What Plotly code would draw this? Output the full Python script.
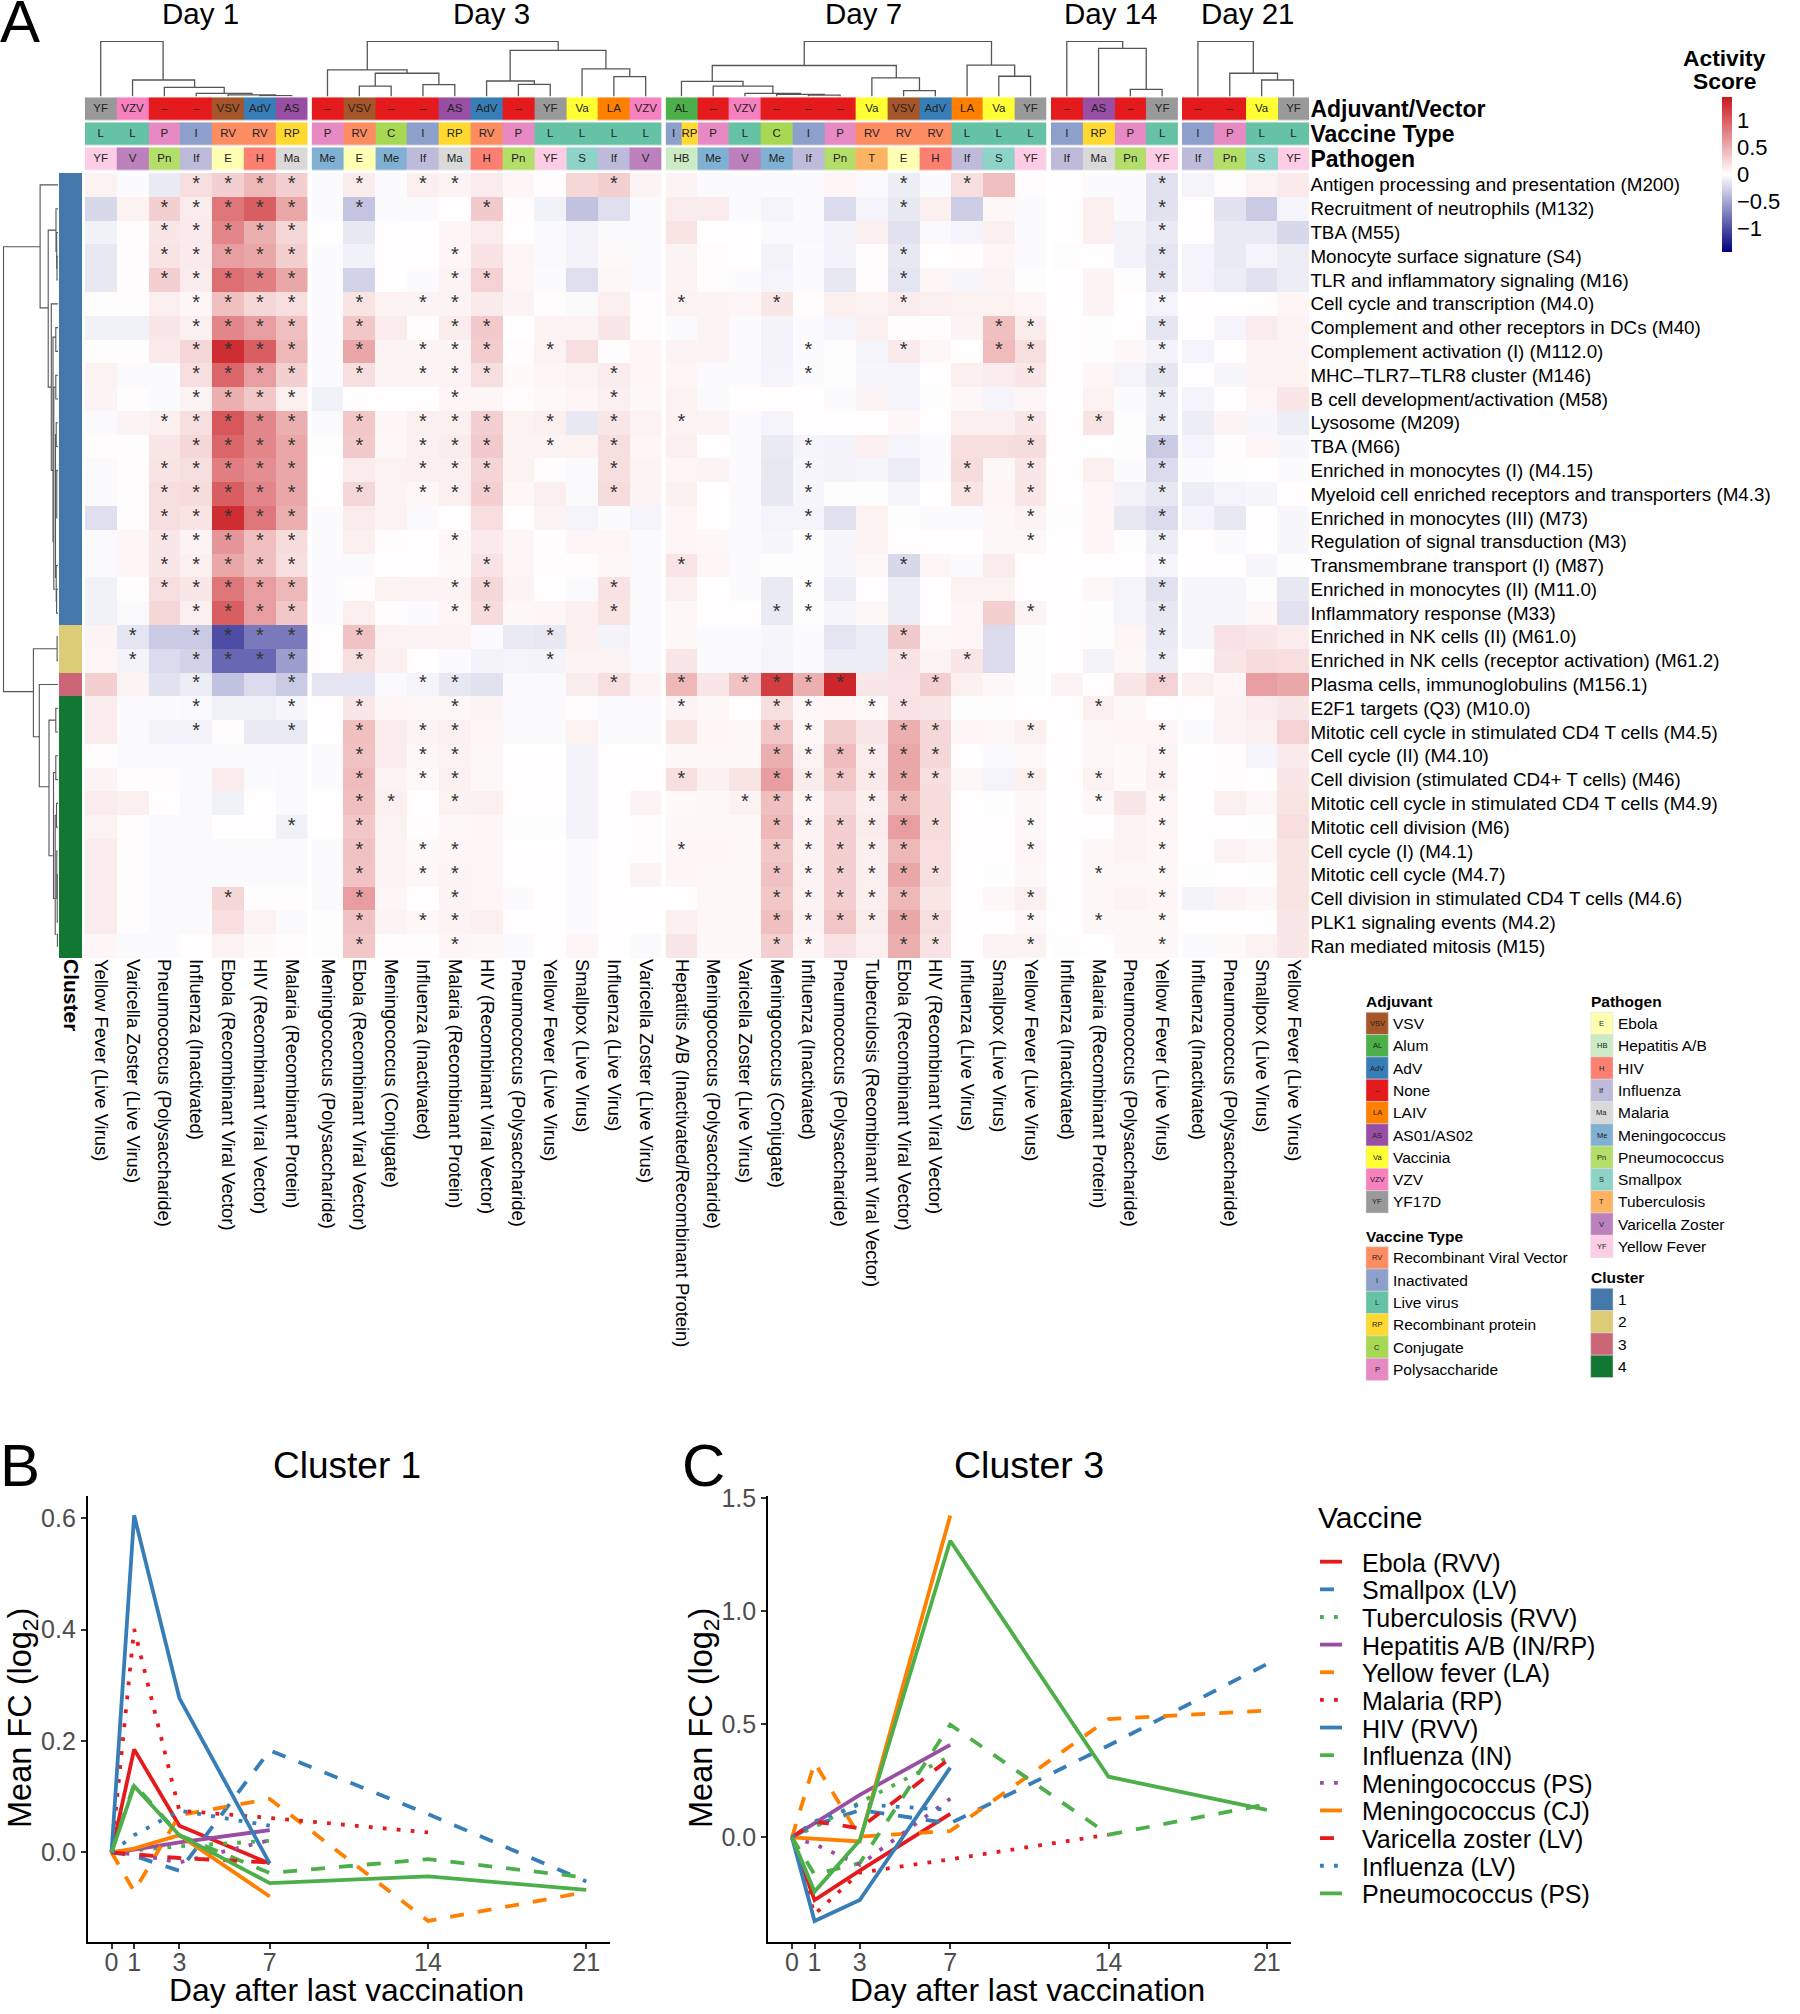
import plotly.graph_objects as go

W, H = 1800, 2014
FONT = "Liberation Sans"

# ---- heatmap data -------------------------------------------------------
row_labels = [
    "Antigen processing and presentation (M200)", "Recruitment of neutrophils (M132)", "TBA (M55)",
    "Monocyte surface signature (S4)", "TLR and inflammatory signaling (M16)", "Cell cycle and transcription (M4.0)",
    "Complement and other receptors in DCs (M40)", "Complement activation (I) (M112.0)",
    "MHC–TLR7–TLR8 cluster (M146)", "B cell development/activation (M58)", "Lysosome (M209)", "TBA (M66)",
    "Enriched in monocytes (I) (M4.15)", "Myeloid cell enriched receptors and transporters (M4.3)",
    "Enriched in monocytes (III) (M73)", "Regulation of signal transduction (M3)", "Transmembrane transport (I) (M87)",
    "Enriched in monocytes (II) (M11.0)", "Inflammatory response (M33)", "Enriched in NK cells (II) (M61.0)",
    "Enriched in NK cells (receptor activation) (M61.2)", "Plasma cells, immunoglobulins (M156.1)",
    "E2F1 targets (Q3) (M10.0)", "Mitotic cell cycle in stimulated CD4 T cells (M4.5)", "Cell cycle (II) (M4.10)",
    "Cell division (stimulated CD4+ T cells) (M46)", "Mitotic cell cycle in stimulated CD4 T cells (M4.9)",
    "Mitotic cell division (M6)", "Cell cycle (I) (M4.1)", "Mitotic cell cycle (M4.7)",
    "Cell division in stimulated CD4 T cells (M4.6)", "PLK1 signaling events (M4.2)", "Ran mediated mitosis (M15)",
]
row_cluster = [1] * 19 + [2] * 2 + [3] + [4] * 11

day_titles = ["Day 1", "Day 3", "Day 7", "Day 14", "Day 21"]
day_title_px = [200.5, 491.5, 863, 1110, 1247]

day1_cols = ["Yellow Fever (Live Virus)", "Varicella Zoster (Live Virus)", "Pneumococcus (Polysaccharide)",
             "Influenza (Inactivated)", "Ebola (Recombinant Viral Vector)", "HIV (Recombinant Viral Vector)",
             "Malaria (Recombinant Protein)"]
day3_cols = ["Meningococcus (Polysaccharide)", "Ebola (Recombinant Viral Vector)", "Meningococcus (Conjugate)",
             "Influenza (Inactivated)", "Malaria (Recombinant Protein)", "HIV (Recombinant Viral Vector)",
             "Pneumococcus (Polysaccharide)", "Yellow Fever (Live Virus)", "Smallpox (Live Virus)",
             "Influenza (Live Virus)", "Varicella Zoster (Live Virus)"]
day7_cols = ["Hepatitis A/B (Inactivated/Recombinant Protein)", "Meningococcus (Polysaccharide)",
             "Varicella Zoster (Live Virus)", "Meningococcus (Conjugate)", "Influenza (Inactivated)",
             "Pneumococcus (Polysaccharide)", "Tuberculosis (Recombinant Viral Vector)",
             "Ebola (Recombinant Viral Vector)", "HIV (Recombinant Viral Vector)", "Influenza (Live Virus)",
             "Smallpox (Live Virus)", "Yellow Fever (Live Virus)"]
day14_cols = ["Influenza (Inactivated)", "Malaria (Recombinant Protein)", "Pneumococcus (Polysaccharide)",
              "Yellow Fever (Live Virus)"]
day21_cols = ["Influenza (Inactivated)", "Pneumococcus (Polysaccharide)", "Smallpox (Live Virus)",
              "Yellow Fever (Live Virus)"]

day1_values = [
    [.08, -.02, -.12, .2, .3, .45, .3], [-.22, .08, .3, .12, .85, 1.0, .55], [-.08, .02, .15, .13, .75, .5, .25],
    [-.13, .02, .17, .13, .6, .55, .3], [-.13, .02, .3, .12, .9, .8, .55], [.02, .02, .1, .06, .4, .25, .2],
    [-.08, -.08, .15, .1, .75, .6, .4], [.02, .02, .13, .25, 1.3, 1.0, .45], [.08, -.03, -.02, .2, .95, .6, .3],
    [.07, .02, -.02, .07, .5, .35, .1], [-.03, .07, .1, .2, 1.05, .75, .5], [.02, .02, .15, .25, .95, .75, .55],
    [-.03, .02, .17, .2, .8, .7, .55], [-.03, .02, .2, .22, 1.0, .75, .55], [-.18, .02, .2, .17, 1.3, .85, .5],
    [-.03, .06, .15, .07, .65, .4, .22], [-.03, .06, .15, .1, .55, .4, .2], [-.08, .02, .2, .15, .85, .6, .45],
    [-.08, -.03, .25, .1, 1.0, .6, .35], [.07, -.15, -.3, -.3, -1.0, -.75, -.75],
    [.06, -.07, -.2, -.25, -.85, -.85, -.55], [.3, .07, -.17, -.1, -.35, -.2, -.3],
    [.12, -.03, -.02, -.03, -.08, -.08, -.05], [.12, -.03, -.07, -.07, .02, -.12, -.12],
    [.02, -.03, -.03, -.03, -.03, -.03, -.03], [.07, .02, .02, -.02, .12, -.02, -.03],
    [.12, .1, .01, -.03, -.08, .01, -.03], [.08, .02, -.03, -.03, .01, .01, -.08],
    [.12, .02, -.03, -.03, -.03, -.03, -.03], [.12, .02, -.03, -.03, -.03, -.03, -.03],
    [.12, .02, -.03, -.03, .25, .02, .02], [.12, .02, -.03, -.03, .2, .08, -.03],
    [.06, -.03, -.02, .01, .08, .03, .02],
]
day3_values = [
    [-.02, .12, -.02, .1, .07, .12, .06, .02, .25, .3, .07], [-.02, -.33, -.02, -.03, .01, .33, .02, -.08, -.35, -.18, -.03],
    [.01, -.13, .01, .01, .06, .12, .01, -.03, -.07, -.03, -.03], [-.02, -.08, .01, .01, .06, .18, .06, -.03, -.07, .04, -.03],
    [-.02, -.25, .01, -.02, .07, .28, .06, -.02, -.18, .05, -.03], [-.02, .17, .08, .07, .07, .13, .07, .02, -.03, .1, .02],
    [-.02, .35, .12, .02, .12, .33, .01, .08, .07, .15, .02], [-.02, .55, .07, .07, .07, .32, .02, .08, .2, .02, .06],
    [-.02, .2, .07, .07, .07, .2, .03, .06, .08, .12, .06], [-.08, .01, .01, .01, .06, .06, .02, .04, .06, .1, .05],
    [-.03, .35, .06, .1, .1, .3, .08, .1, -.13, .15, .08], [-.01, .33, .05, .1, .12, .33, .07, .07, .08, .2, .06],
    [.01, .12, .08, .1, .1, .27, .08, .02, -.03, .2, .07], [.01, .25, .07, .05, .1, .3, .05, .1, -.03, .22, .07],
    [-.02, .12, .08, -.03, .01, .2, .01, .07, -.06, -.02, -.06], [-.02, .1, .02, .01, .05, .13, .06, .02, .06, .06, -.03],
    [-.02, -.03, .01, .01, .04, .18, .06, .02, .02, .05, -.03], [-.02, .02, .08, .07, .07, .25, .07, .01, -.03, .18, -.03],
    [-.02, .1, .02, -.02, .06, .22, .05, .06, .1, .17, -.03], [.01, .38, .08, .07, .07, -.02, -.12, -.13, .1, -.07, -.02],
    [.01, .2, .1, .01, -.02, -.07, -.06, -.07, .07, .07, -.03], [-.15, -.15, -.03, -.06, -.13, -.17, -.03, -.03, .12, .2, .07],
    [.01, .15, .06, .05, .05, .07, -.03, -.03, .02, -.03, -.02], [.01, .4, .12, .07, .1, .06, -.03, -.03, .08, -.02, -.03],
    [-.02, .38, .12, .05, .08, .05, .01, .01, -.07, .01, .01], [-.02, .42, .07, .04, .1, .05, .01, .01, -.07, .01, .01],
    [.01, .4, .1, .01, .08, .1, .01, .01, -.07, .01, .07], [.01, .35, .08, .02, .05, .06, -.01, -.01, -.07, .01, .02],
    [-.02, .38, .07, .04, .06, .06, .01, .01, -.02, .01, .02], [-.02, .37, .07, .05, .07, .06, .01, .01, -.02, .01, .07],
    [-.03, .6, .06, .01, .07, .06, -.02, .01, -.02, .01, .01], [-.01, .38, .07, .05, .07, .1, .01, .01, -.02, .01, .01],
    [-.01, .35, .02, .02, .06, .05, -.02, .01, .06, .01, -.03],
]
day7_values = [
    [.07, -.02, -.02, -.02, -.02, .06, -.03, -.1, -.02, .2, .4, .02], [.12, .12, -.02, -.06, -.02, -.2, -.06, -.13, .1, -.28, .05, -.02],
    [.17, .01, .01, -.03, -.03, -.07, .1, -.17, -.03, -.06, .1, -.02], [.07, .02, .01, -.07, -.02, -.07, .02, -.13, .01, .02, .06, -.02],
    [.07, .02, -.02, -.06, -.02, -.13, .02, -.15, .06, -.05, .07, -.01], [.08, .07, .06, .15, .02, .1, .08, .12, .1, .08, .08, .06],
    [-.02, .07, -.02, -.07, -.02, -.06, .1, .02, .02, .07, .4, .12], [.07, .07, -.02, -.07, -.02, -.01, -.06, .13, .05, .01, .42, .2],
    [.06, -.02, -.02, -.06, -.02, -.01, -.05, -.06, .01, .1, .12, .15], [.08, -.03, .01, .01, .01, -.02, .07, -.06, -.01, .05, -.06, .06],
    [.08, .07, -.02, -.06, .01, .01, .01, .05, .01, .1, .1, .15], [.1, .01, -.02, -.12, -.06, -.07, .1, -.06, -.02, .2, .2, .22],
    [.06, .07, -.02, -.13, -.05, -.07, -.05, -.1, -.02, .22, .05, .15], [.09, .01, -.03, -.13, -.05, -.01, -.01, -.05, .01, .17, .06, .15],
    [.06, .01, -.02, -.06, -.06, -.17, .08, -.01, -.02, -.02, .05, .07], [.06, .05, -.02, -.05, -.01, -.05, .08, .01, .01, .01, .05, .05],
    [.16, .06, -.02, -.01, -.01, -.05, .05, -.22, .06, -.02, .12, .01], [.1, .01, -.02, -.12, -.01, -.1, .01, -.1, .01, .08, .08, .01],
    [.05, .01, .01, -.12, -.01, -.05, .05, -.1, .01, .06, .3, .07], [.05, -.02, -.02, -.05, -.02, -.15, -.1, .33, .05, .06, -.2, -.01],
    [.15, -.02, -.02, -.06, -.02, -.1, -.1, .18, .07, .15, -.2, -.01], [.45, .15, .38, 1.2, .5, 1.35, .15, .16, .3, .1, .05, -.01],
    [.07, .05, .01, .2, .05, .06, .04, .18, .15, -.01, -.01, .01], [.17, .06, .05, .35, .05, .3, .15, .5, .25, .06, .05, .1],
    [.05, .05, .05, .5, .08, .42, .12, .55, .25, .01, -.02, .04], [.2, .1, .17, .6, .12, .35, .13, .55, .2, .05, -.06, .1],
    [.03, .05, .08, .4, .06, .25, .1, .45, .22, .01, -.01, .05], [.05, .05, .05, .45, .07, .3, .12, .6, .22, .01, .01, .05],
    [.06, .06, .05, .35, .07, .3, .1, .45, .2, .01, .01, .06], [.06, .05, .05, .38, .07, .3, .1, .55, .2, .01, -.01, .05],
    [.01, .05, .05, .35, .07, .3, .1, .45, .15, .01, .05, .1], [.1, .05, .05, .4, .07, .35, .12, .55, .2, .01, .01, .05],
    [.15, .05, .05, .3, .06, .18, .1, .5, .18, .01, .07, .08],
]
day14_values = [
    [.01, -.02, -.02, -.17], [.01, .1, -.02, -.17], [.01, .1, -.07, -.12], [-.01, .01, -.07, -.15], [.01, .07, -.01, -.14],
    [.01, .07, .01, -.06], [.01, -.01, .01, -.14], [.01, -.01, .05, -.07], [.01, .06, -.06, -.14], [.01, .08, -.02, -.1],
    [.01, .17, -.01, -.1], [.01, .01, -.01, -.3], [.01, .1, -.02, -.2], [.01, .06, -.07, -.13], [-.01, .06, -.13, -.2],
    [.01, .06, -.01, -.1], [.01, .01, .01, -.06], [.01, .05, -.06, -.17], [.01, -.01, -.06, -.13], [.01, -.01, .06, -.12],
    [.01, -.07, .05, -.1], [.07, .01, .15, .28], [.01, .1, .05, .01], [.01, .05, .06, .06], [.01, .05, .03, .07],
    [.01, .08, .03, .08], [.01, .05, .15, .06], [.01, .01, .07, .06], [.01, .05, .07, .05], [.01, .05, .05, .05],
    [.01, .05, .07, .06], [.01, .05, .05, .05], [-.01, .01, .05, .05],
]
day21_values = [
    [-.06, .02, .08, .13], [.01, -.17, -.3, -.06], [.01, -.12, -.12, -.22], [-.06, -.12, -.06, -.1], [-.06, -.1, -.17, -.1],
    [.01, .01, .01, .06], [.01, -.06, .12, .07], [-.06, .01, .07, .07], [.01, -.05, .07, .08], [-.06, .01, .06, .15],
    [-.1, .07, -.05, -.1], [-.06, .02, .06, -.05], [-.02, -.01, .01, -.02], [-.1, -.06, -.05, .01], [-.06, -.13, .01, -.05],
    [.01, -.02, .01, -.05], [.01, .01, -.05, -.01], [-.05, -.05, -.01, -.13], [-.05, -.05, .05, -.17], [-.05, .18, .15, .12],
    [.01, .15, .22, .2], [.1, .06, .6, .55], [.01, .07, .12, .15], [-.02, .07, .1, .28], [.01, .02, -.06, .13],
    [.01, .02, .01, .15], [.01, .1, .05, .17], [.01, .01, -.01, .2], [.01, .07, .05, .17], [-.01, .01, -.01, .17],
    [-.07, .07, .05, .17], [.01, .01, .01, .15], [-.02, .04, .08, .15],
]

# significant cells: row -> list of columns
day1_stars = {0: [3, 4, 5, 6], 1: [2, 3, 4, 5, 6], 2: [2, 3, 4, 5, 6], 3: [2, 3, 4, 5, 6], 4: [2, 3, 4, 5, 6],
              5: [3, 4, 5, 6], 6: [3, 4, 5, 6], 7: [3, 4, 5, 6], 8: [3, 4, 5, 6], 9: [3, 4, 5, 6],
              10: [2, 3, 4, 5, 6], 11: [3, 4, 5, 6], 12: [2, 3, 4, 5, 6], 13: [2, 3, 4, 5, 6], 14: [2, 3, 4, 5, 6],
              15: [2, 3, 4, 5, 6], 16: [2, 3, 4, 5, 6], 17: [2, 3, 4, 5, 6], 18: [3, 4, 5, 6],
              19: [1, 3, 4, 5, 6], 20: [1, 3, 4, 5, 6], 21: [3, 6], 22: [3, 6], 23: [3, 6], 27: [6], 30: [4]}
day3_stars = {0: [1, 3, 4, 9], 1: [1, 5], 3: [4], 4: [4, 5], 5: [1, 3, 4], 6: [1, 4, 5], 7: [1, 3, 4, 5, 7],
              8: [1, 3, 4, 5, 9], 9: [4, 9], 10: [1, 3, 4, 5, 7, 9], 11: [1, 3, 4, 5, 7, 9], 12: [3, 4, 5, 9],
              13: [1, 3, 4, 5, 9], 15: [4], 16: [5], 17: [4, 5, 9], 18: [4, 5, 9], 19: [1, 7], 20: [1, 7],
              21: [3, 4, 9], 22: [1, 4], 23: [1, 3, 4], 24: [1, 3, 4], 25: [1, 3, 4], 26: [1, 2, 4], 27: [1],
              28: [1, 3, 4], 29: [1, 3, 4], 30: [1, 4], 31: [1, 3, 4], 32: [1, 4]}
day7_stars = {0: [7, 9], 1: [7], 3: [7], 4: [7], 5: [0, 3, 7], 6: [10, 11], 7: [4, 7, 10, 11], 8: [4, 11], 10: [0, 11],
              11: [4, 11], 12: [4, 9, 11], 13: [4, 9, 11], 14: [4, 11], 15: [4, 11], 16: [0, 7], 17: [4],
              18: [3, 4, 11], 19: [7], 20: [7, 9], 21: [0, 2, 3, 4, 5, 8], 22: [0, 3, 4, 6, 7], 23: [3, 4, 7, 8, 11],
              24: [3, 4, 5, 6, 7, 8], 25: [0, 3, 4, 5, 6, 7, 8, 11], 26: [2, 3, 4, 6, 7], 27: [3, 4, 5, 6, 7, 8, 11],
              28: [0, 3, 4, 5, 6, 7, 11], 29: [3, 4, 5, 6, 7, 8], 30: [3, 4, 5, 6, 7, 11], 31: [3, 4, 5, 6, 7, 8, 11],
              32: [3, 4, 7, 8, 11]}
day14_stars = {r: [3] for r in range(33) if r != 22}
day14_stars[10] = [1, 3]
day14_stars[22] = [1]
for r in (25, 26, 29, 31):
    day14_stars[r] = [1, 3]
day21_stars = {}

# annotation strips
day1_adj = ["YF", "VZV", "–", "–", "VSV", "AdV", "AS"]
day3_adj = ["–", "VSV", "–", "–", "AS", "AdV", "–", "YF", "Va", "LA", "VZV"]
day7_adj = ["AL", "–", "VZV", "–", "–", "–", "Va", "VSV", "AdV", "LA", "Va", "YF"]
day14_adj = ["–", "AS", "–", "YF"]
day21_adj = ["–", "–", "Va", "YF"]
day1_type = ["L", "L", "P", "I", "RV", "RV", "RP"]
day3_type = ["P", "RV", "C", "I", "RP", "RV", "P", "L", "L", "L", "L"]
day7_type = [None, "P", "L", "C", "I", "P", "RV", "RV", "RV", "L", "L", "L"]
day14_type = ["I", "RP", "P", "L"]
day21_type = ["I", "P", "L", "L"]
day1_path = ["YF", "V", "Pn", "If", "E", "H", "Ma"]
day3_path = ["Me", "E", "Me", "If", "Ma", "H", "Pn", "YF", "S", "If", "V"]
day7_path = ["HB", "Me", "V", "Me", "If", "Pn", "T", "E", "H", "If", "S", "YF"]
day14_path = ["If", "Ma", "Pn", "YF"]
day21_path = ["If", "Pn", "S", "YF"]

adjuvant_names = ["VSV", "Alum", "AdV", "None", "LAIV", "AS01/AS02", "Vaccinia", "VZV", "YF17D"]
adjuvant_keys = ["VSV", "AL", "AdV", "–", "LA", "AS", "Va", "VZV", "YF"]
adjuvant_colors = ["#A65628", "#4DAF4A", "#377EB8", "#E41A1C", "#FF7F00", "#984EA3", "#FFFF33", "#F781BF", "#999999"]
type_names = ["Recombinant Viral Vector", "Inactivated", "Live virus", "Recombinant protein", "Conjugate", "Polysaccharide"]
type_keys = ["RV", "I", "L", "RP", "C", "P"]
type_colors = ["#FC8D62", "#8DA0CB", "#66C2A5", "#FFD92F", "#A6D854", "#E78AC3"]
path_names = ["Ebola", "Hepatitis A/B", "HIV", "Influenza", "Malaria", "Meningococcus", "Pneumococcus", "Smallpox",
              "Tuberculosis", "Varicella Zoster", "Yellow Fever"]
path_keys = ["E", "HB", "H", "If", "Ma", "Me", "Pn", "S", "T", "V", "YF"]
path_colors = ["#FFFFB3", "#CCEBC5", "#FB8072", "#BEBADA", "#D9D9D9", "#80B1D3", "#B3DE69", "#8DD3C7", "#FDB462",
               "#BC80BD", "#FCCDE5"]
cluster_names = ["1", "2", "3", "4"]
cluster_colors = ["#4477AA", "#DDCC77", "#CC6677", "#117733"]

# dendrograms: (left, right, height, left child height, right child height)
day1_tree = [(0, 1.96, 54.7, 0, 16.3), (1, 2.95, 16.3, 0, 9), (2, 3.88, 9, 0, 3), (3, 4.75, 3, 0, 1.5),
             (4, 5.5, 1.5, 0, .8), (5, 6, .8, 0, 0)]
day3_tree = [(1.25, 7.25, 54.7, 26.3, 45.7), (5.74, 8.75, 45.7, 15.3, 27.3), (5, 6.5, 15.3, 0, 12), (6, 7, 12, 0, 0),
             (8, 9.5, 27.3, 0, 19.7), (9, 10, 19.7, 0, 0), (0, 2.5, 26.3, 0, 23), (1.5, 3.5, 23, 10.3, 11.7),
             (1, 2, 10.3, 0, 0), (3, 4, 11.7, 0, 0)]
day7_tree = [(3.87, 9.77, 54.7, 30.7, 31), (9, 10.5, 31, 0, 20), (10, 11, 20, 0, 0), (0.97, 6.77, 30.7, 15, 18.3),
             (6, 7.5, 18.3, 0, 5.7), (7, 8, 5.7, 0, 0), (0, 1.94, 15, 0, 10.3), (1, 2.88, 10.3, 0, 3),
             (2, 3.75, 3, 0, 2), (3, 4.5, 2, 0, 1.3), (4, 5, 1.3, 0, 0)]
day14_tree = [(0, 1.76, 54.7, 0, 47.7), (1, 2.5, 47.7, 0, 7), (2, 3, 7, 0, 0)]
day21_tree = [(0, 1.74, 54.7, 0, 23), (1, 2.5, 23, 0, 16.3), (2, 3, 16.3, 0, 0)]
row_tree = [(2.6, 21.3, 54.5, 17.9, 24.6), (0, 5.17, 17.9, 0, 9.8), (1.9, 8.5, 9.8, 2, 6.7), (1, 2.8, 2, 0, 1.3),
            (2, 3.5, 1.3, 0, 1), (3, 4, 1, 0, 0), (5, 12, 6.7, 0, 5), (6.4, 15, 5, 2.2, 4.2), (6, 7, 2.2, 0, 0),
            (8.5, 17, 4.2, 2.2, 2.5), (8, 9, 2.2, 0, 0), (10.5, 16.5, 2.5, 1.8, 1.8), (10, 11, 1.8, 0, 0),
            (12, 14, 1.2, 0, 0.6), (16, 17.5, 1.8, 0, 1.4), (17, 18, 1.4, 0, 0),
            (19.5, 23.2, 24.6, 0.9, 18.7), (19, 20, 0.9, 0, 0), (21, 25.3, 18.7, 0, 9),
            (22.5, 28.2, 9, 2.2, 4.5), (22, 23, 2.2, 0, 0), (24.7, 30, 4.5, 2.2, 2.8), (24, 25, 2.2, 0, 0),
            (26.5, 31.5, 2.8, 1.5, 1.5), (26, 27, 1.5, 0, 0), (28, 30, 1.2, 0, 0.8), (29, 31, 0.8, 0, 0), (31.5, 32, 0.6, 0, 0)]

# ---- line panels --------------------------------------------------------
days = [0, 1, 3, 7, 14, 21]
vaccine_names = ["Ebola (RVV)", "Smallpox (LV)", "Tuberculosis (RVV)", "Hepatitis A/B (IN/RP)", "Yellow fever (LA)",
                 "Malaria (RP)", "HIV (RVV)", "Influenza (IN)", "Meningococcus (PS)", "Meningococcus (CJ)",
                 "Varicella zoster (LV)", "Influenza (LV)", "Pneumococcus (PS)"]
vaccine_colors = ["#E41A1C", "#377EB8", "#4DAF4A", "#984EA3", "#FF7F00", "#E41A1C", "#377EB8", "#4DAF4A", "#984EA3",
                  "#FF7F00", "#E41A1C", "#377EB8", "#4DAF4A"]
vaccine_dash = ["solid", "dash", "dot", "solid", "dash", "dot", "solid", "dash", "dot", "solid", "dash", "dot", "solid"]
cluster1_series = [
    [0, .185, .048, -.02], [0, -.006, -.033, .183, .069, -.052], [0, .004, .011, .021], [0, .005, .018, .04],
    [0, -.07, .067, .096, -.123, -.071], [0, .401, .075, .062, .036], [0, .605, .277, -.02],
    [0, .123, .031, -.037, -.012, -.045], [0, -.003, -.018, .022], [0, .007, .031, -.079],
    [0, -.003, -.01, -.018], [0, .031, .075, .048], [0, .119, .031, -.055, -.043, -.067],
]
cluster3_series = [
    [0, -.278, -.147, .104], [0, .054, .12, .062, .406, .766], [0, .045, .154, .359], [0, .062, .188, .409],
    [0, .33, .003, .028, .523, .56], [0, -.34, -.156, -.097, .012], [0, -.37, -.277, .308],
    [0, -.164, -.114, .498, .012, .146], [0, -.03, -.122, .171], [0, -.006, -.018, 1.423],
    [0, .07, .04, .35], [0, .07, .146, .121], [0, -.24, -.013, 1.311, .268, .121],
]

DASH = {"solid": "solid", "dash": "14px,14px", "dot": "3.8px,10.2px"}
LINE_W = 3.8


def fx(px):
    return px / W


def fy(py):
    return 1 - py / H


def tree_xy(tree):
    a, b = [], []
    for left, right, h, hl, hr in tree:
        a += [left, left, right, right, None]
        b += [hl, h, h, hr, None]
    return a, b


def label(x, y, text, size, **kw):
    fig.add_annotation(x=fx(x), y=fy(y), xref="paper", yref="paper", text=text, showarrow=False,
                       font=dict(family=FONT, size=size, color=kw.pop("color", "black")),
                       xanchor=kw.pop("xanchor", "center"), yanchor="middle", **kw)


fig = go.Figure()

blocks = [
    (day1_cols, day1_values, day1_stars, day1_adj, day1_type, day1_path, day1_tree, 84.8, 307.6),
    (day3_cols, day3_values, day3_stars, day3_adj, day3_type, day3_path, day3_tree, 311.6, 661.6),
    (day7_cols, day7_values, day7_stars, day7_adj, day7_type, day7_path, day7_tree, 665.6, 1046.4),
    (day14_cols, day14_values, day14_stars, day14_adj, day14_type, day14_path, day14_tree, 1050.9, 1178),
    (day21_cols, day21_values, day21_stars, day21_adj, day21_type, day21_path, day21_tree, 1182, 1309.4),
]

all_colors = adjuvant_colors + type_colors + path_colors


def strip_index(adj, typ, path):
    return [[None if k is None else adjuvant_keys.index(k) for k in adj],
            [None if k is None else len(adjuvant_keys) + type_keys.index(k) for k in typ],
            [None if k is None else len(adjuvant_keys) + len(type_keys) + path_keys.index(k) for k in path]]


n_cat = len(all_colors)
cat_scale = []
for i, c in enumerate(all_colors):
    cat_scale += [[i / n_cat, c], [(i + 1) / n_cat, c]]

layout_axes = {}
for b, (cols, values, stars, adj, typ, path, tree, x0, x1) in enumerate(blocks):
    xname = "x" if b == 0 else f"x{b + 1}"
    col_idx = list(range(len(cols)))
    layout_axes["xaxis" if b == 0 else f"xaxis{b + 1}"] = dict(
        domain=[fx(x0), fx(x1)], range=[-0.5, len(cols) - 0.5], anchor="y", tickmode="array", tickvals=col_idx,
        ticktext=cols, tickangle=90, ticks="", showgrid=False, zeroline=False, showline=False,
        tickfont=dict(family=FONT, size=18.4, color="black"), automargin=False)
    fig.add_trace(go.Heatmap(x=col_idx, y=list(range(33)), z=values, coloraxis="coloraxis", xaxis=xname, yaxis="y",
                             hoverinfo="skip"))
    star_x, star_y = [], []
    for r, cs in stars.items():
        for c in cs:
            star_x.append(c)
            star_y.append(r)
    if star_x:
        fig.add_trace(go.Scatter(x=star_x, y=star_y, mode="text", text=["*"] * len(star_x), xaxis=xname, yaxis="y",
                                 textfont=dict(family=FONT, size=20, color="#333333"), hoverinfo="skip"))
    # annotation strips
    fig.add_trace(go.Heatmap(x=col_idx, y=[0, 1, 2], z=strip_index(adj, typ, path), xaxis=xname, yaxis="y2",
                             colorscale=cat_scale, zmin=-0.5, zmax=n_cat - 0.5, showscale=False, ygap=2.4,
                             hoverinfo="skip"))
    sx, sy, st = [], [], []
    for r, keys in enumerate([adj, typ, path]):
        for c, k in enumerate(keys):
            if k is not None:
                sx.append(c)
                sy.append(r)
                st.append(k)
    if b == 2:
        # first column of day 7 is split between two vaccine types
        fig.add_trace(go.Heatmap(x=[-0.25, 0.25], y=[1], z=[[len(adjuvant_keys) + 1, len(adjuvant_keys) + 3]],
                                 xaxis=xname, yaxis="y2", colorscale=cat_scale, zmin=-0.5, zmax=n_cat - 0.5,
                                 showscale=False, ygap=2.4, hoverinfo="skip"))
        sx += [-0.25, 0.25]
        sy += [1, 1]
        st += ["I", "RP"]
    fig.add_trace(go.Scatter(x=sx, y=sy, mode="text", text=st, xaxis=xname, yaxis="y2",
                             textfont=dict(family=FONT, size=11.5, color="#222222"), hoverinfo="skip"))
    tx, ty = tree_xy(tree)
    fig.add_trace(go.Scatter(x=tx, y=ty, mode="lines", xaxis=xname, yaxis="y3", hoverinfo="skip",
                             line=dict(color="#555555", width=1.3)))
    label(day_title_px[b], 14, day_titles[b], 29.5)

# row dendrogram and cluster bar
rx, ry = tree_xy(row_tree)
fig.add_trace(go.Scatter(x=ry, y=rx, mode="lines", xaxis="x6", yaxis="y", hoverinfo="skip",
                         line=dict(color="#555555", width=1.1)))
cl_scale = []
for i, c in enumerate(cluster_colors):
    cl_scale += [[i / 4, c], [(i + 1) / 4, c]]
fig.add_trace(go.Heatmap(x=[0], y=list(range(33)), z=[[c] for c in row_cluster], xaxis="x7", yaxis="y",
                         colorscale=cl_scale, zmin=0.5, zmax=4.5, showscale=False, hoverinfo="skip"))

# line panels
for series, xa, ya in [(cluster1_series, "x8", "y4"), (cluster3_series, "x9", "y5")]:
    for name, color, dash, vals in zip(vaccine_names, vaccine_colors, vaccine_dash, series):
        fig.add_trace(go.Scatter(x=days[:len(vals)], y=vals, mode="lines", name=name, xaxis=xa, yaxis=ya,
                                 line=dict(color=color, dash=DASH[dash], width=LINE_W), showlegend=False))

axis_common = dict(showgrid=False, zeroline=False, showline=True, linecolor="black", linewidth=2, ticks="outside",
                   ticklen=5, tickwidth=1.5, tickcolor="#333333", tickfont=dict(family=FONT, size=25, color="#4D4D4D"))
layout_axes.update(
    yaxis=dict(domain=[fy(958), fy(173)], range=[32.5, -0.5], anchor="x5", side="right", tickmode="array",
               tickvals=list(range(33)), ticktext=row_labels, ticks="", showgrid=False, zeroline=False,
               tickfont=dict(family=FONT, size=18.8, color="black")),
    yaxis2=dict(domain=[fy(171.4), fy(96.4)], range=[2.5, -0.5], anchor="x5", side="right", tickmode="array",
                tickvals=[0, 1, 2], ticktext=["Adjuvant/Vector", "Vaccine Type", "Pathogen"], ticks="", showgrid=False,
                zeroline=False, tickfont=dict(family=FONT, size=23, color="black", weight=700)),
    yaxis3=dict(domain=[fy(96.4), fy(41)], range=[0, 55], anchor="x", visible=False),
    xaxis6=dict(domain=[fx(0), fx(58)], range=[58, 0], anchor="y", visible=False),
    xaxis7=dict(domain=[fx(59), fx(82)], range=[-0.5, 0.5], anchor="y", tickmode="array", tickvals=[0],
                ticktext=["Cluster"], tickangle=90, ticks="", showgrid=False, zeroline=False,
                tickfont=dict(family=FONT, size=21, color="black", weight=700)),
    xaxis8=dict(domain=[fx(87.8), fx(610)], range=[-1.05, 22.05], anchor="y4", tickmode="array", tickvals=days,
                ticklabelstandoff=-8, **axis_common),
    yaxis4=dict(domain=[fy(1941.6), fy(1495.8)], range=[-0.16, 0.64], anchor="x8", tickmode="array",
                tickvals=[0, .2, .4, .6], ticktext=["0.0", "0.2", "0.4", "0.6"], **axis_common),
    xaxis9=dict(domain=[fx(768.2), fx(1290.6)], range=[-1.05, 22.05], anchor="y5", tickmode="array", tickvals=days,
                ticklabelstandoff=-8, **axis_common),
    yaxis5=dict(domain=[fy(1941.6), fy(1495.8)], range=[-0.461, 1.51], anchor="x9", tickmode="array",
                tickvals=[0, .5, 1, 1.5], ticktext=["0.0", "0.5", "1.0", "1.5"], **axis_common),
)

fig.update_layout(
    width=W, height=H, margin=dict(l=0, r=0, t=0, b=0, autoexpand=False), plot_bgcolor="white", paper_bgcolor="white",
    showlegend=False,
    coloraxis=dict(
        cmin=-1.43, cmax=1.43, colorscale=[[0, "#00007F"], [0.5, "#FFFFFF"], [1, "#C9191E"]],
        colorbar=dict(x=fx(1721.7), xanchor="left", y=fy(96.7), yanchor="top", len=155, lenmode="pixels", thickness=10,
                      thicknessmode="pixels", xpad=0, ypad=0, outlinewidth=0, ticks="", tickmode="array",
                      tickvals=[-1, -.5, 0, .5, 1], ticktext=["−1", "−0.5", "0", "0.5", "1"],
                      tickfont=dict(family=FONT, size=22, color="black")),
    ),
    **layout_axes,
)

# panel letters and titles
label(20, 21, "A", 60)
label(20, 1465, "B", 60)
label(703, 1465, "C", 60)
label(1724, 58, "<b>Activity</b>", 22.8)
label(1724, 80.5, "<b>Score</b>", 22.8)
label(347, 1465, "Cluster 1", 37)
label(1029, 1465, "Cluster 3", 37.5)
label(346, 1990, "Day after last vaccination", 31.8)
label(1027, 1990, "Day after last vaccination", 31.8)
label(22, 1718, "Mean FC (log<sub>2</sub>)", 32.5, textangle=-90)
label(703, 1718, "Mean FC (log<sub>2</sub>)", 32.5, textangle=-90)


def square_legend(title, names, keys, colors, x, title_y, first_y):
    label(x - 2, title_y, f"<b>{title}</b>", 15.5, xanchor="left")
    for i, (name, key, color) in enumerate(zip(names, keys, colors)):
        top = first_y + i * 22.3
        fig.add_shape(type="rect", xref="paper", yref="paper", x0=fx(x), x1=fx(x + 22.3), y0=fy(top + 22.3), y1=fy(top),
                      fillcolor=color, line=dict(color="#DDDDDD", width=0.5))
        if key:
            label(x + 11.2, top + 11.2, key, 7.5, color="#222222")
        label(x + 25, top + 11.2, name, 15.5, xanchor="left")


square_legend("Adjuvant", adjuvant_names, adjuvant_keys, adjuvant_colors, 1366, 1001.7, 1012.3)
square_legend("Vaccine Type", type_names, type_keys, type_colors, 1366, 1236, 1246.7)
square_legend("Pathogen", path_names, path_keys, path_colors, 1590.7, 1001.7, 1012.3)
square_legend("Cluster", cluster_names, [""] * 4, cluster_colors, 1590.7, 1277.3, 1288.3)

# vaccine legend
label(1316, 1517.7, "Vaccine", 30, xanchor="left")
for i, (name, color, dash) in enumerate(zip(vaccine_names, vaccine_colors, vaccine_dash)):
    y = 1562.7 + i * 27.64
    fig.add_shape(type="line", xref="paper", yref="paper", x0=fx(1320), x1=fx(1342), y0=fy(y - 1), y1=fy(y - 1),
                  line=dict(color=color, width=LINE_W, dash=DASH[dash]))
    label(1360, y, name, 25, xanchor="left")

fig.write_html("out.html", post_script="document.body.style.margin='0';", config={"displayModeBar": False})
